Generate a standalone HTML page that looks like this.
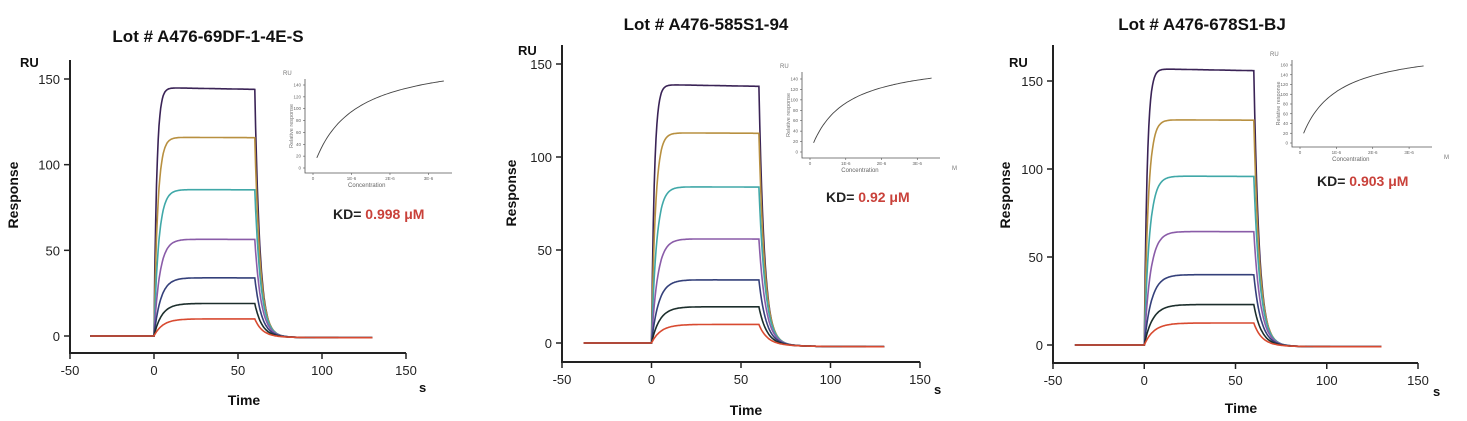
<!DOCTYPE html>
<html><head><meta charset="utf-8">
<style>
html,body{margin:0;padding:0;background:#fff;}
svg{display:block;font-family:"Liberation Sans",Arial,sans-serif;}
</style></head>
<body>
<svg id="s" width="1467" height="421" viewBox="0 0 1467 421" xmlns="http://www.w3.org/2000/svg"></svg>
<script>
const S=document.getElementById('s');
let h='';
const cols=['#3a2356','#b89040','#40a8a8','#8a5ca8','#34407a','#1c2e2c','#d84a30'];
function chart(c){
  const X=t=>c.x0+(t+50)*(c.x1-c.x0)/200;
  const Y=v=>c.y0-(v)*(c.y0-c.y150)/150;
  h+=`<text x="${c.tx}" y="${c.ty}" font-size="17" font-weight="bold" text-anchor="middle" fill="#111">${c.title}</text>`;
  h+=`<path d="M${c.x0} ${c.ytop}V${c.ax}H${c.x1}" stroke="#222" stroke-width="2" fill="none"/>`;
  for(let v=0;v<=150;v+=50){const y=Y(v);h+=`<line x1="${c.x0-6}" y1="${y}" x2="${c.x0}" y2="${y}" stroke="#222" stroke-width="1.5"/><text x="${c.x0-10}" y="${y+5}" font-size="13" text-anchor="end" fill="#222">${v}</text>`;}
  for(let t=-50;t<=150;t+=50){const x=X(t);h+=`<line x1="${x}" y1="${c.ax}" x2="${x}" y2="${c.ax+6}" stroke="#222" stroke-width="1.5"/><text x="${x}" y="${c.ax+22}" font-size="13" text-anchor="middle" fill="#222">${t}</text>`;}
  h+=`<text x="${c.rux}" y="${c.ruy}" font-size="13" font-weight="bold" fill="#111">RU</text>`;
  h+=`<text transform="translate(${c.rsx},${c.rsy}) rotate(-90)" font-size="14" font-weight="bold" text-anchor="middle" fill="#111">Response</text>`;
  h+=`<text x="${c.tmx}" y="${c.tmy}" font-size="14" font-weight="bold" text-anchor="middle" fill="#111">Time</text>`;
  h+=`<text x="${c.sx}" y="${c.sy}" font-size="13" font-weight="bold" fill="#111">s</text>`;
  c.lv.forEach((R,i)=>{
    const ta=1.6+i*0.6, td=3+i*0.25;
    let d='';
    for(let t=-38;t<=130;t+=0.5){
      let v;
      if(t<0)v=0;
      else if(t<=60)v=R*(1-Math.exp(-t/ta))*(1-0.00012*t*(i==0?1:0.3));
      else{const Re=R*(1-0.0072*(i==0?1:0.3));v=Re*Math.exp(-(t-60)/td)-c.drift*(1-Math.exp(-(t-60)/15));}
      d+=(d?'L':'M')+X(t).toFixed(1)+' '+Y(v).toFixed(1);
    }
    h+=`<path d="${d}" stroke="${cols[i]}" stroke-width="1.6" fill="none"/>`;
  });
  const I=c.in;
  h+=`<text x="${I.x-22}" y="${I.yt-4}" font-size="6" fill="#777">RU</text>`;
  h+=`<path d="M${I.x} ${I.yt}V${I.yb}H${I.xr}" stroke="#555" stroke-width="0.8" fill="none"/>`;
  const n=I.n;
  for(let k=0;k<=n;k++){const y=I.y0-(I.y0-I.ymax)*k/n;h+=`<line x1="${I.x-2}" y1="${y}" x2="${I.x}" y2="${y}" stroke="#555" stroke-width="0.6"/><text x="${I.x-4}" y="${y+1.5}" font-size="4.5" text-anchor="end" fill="#666">${k*20}</text>`;}
  const w=I.xr-I.x;
  [0,1,2,3].forEach(k=>{const x=I.x+8+k*(w-20)/3.3;h+=`<line x1="${x}" y1="${I.yb}" x2="${x}" y2="${I.yb+2}" stroke="#555" stroke-width="0.6"/><text x="${x}" y="${I.yb+7}" font-size="4.5" text-anchor="middle" fill="#666">${k==0?'0':k+'E-6'}</text>`;});
  h+=`<text x="${I.x+w*0.42}" y="${I.yb+14}" font-size="6" text-anchor="middle" fill="#666">Concentration</text>`;
  h+=`<text transform="translate(${I.x-12},${(I.yt+I.yb)/2}) rotate(-90)" font-size="5.5" text-anchor="middle" fill="#777">Relative response</text>`;
  if(I.m)h+=`<text x="${I.xr+12}" y="${I.yb+12}" font-size="6" fill="#777">M</text>`;
  let d='';
  for(let k=0;k<=60;k++){const cx=0.1+3.3*k/60;const v=c.rmax*cx/(cx+c.kd);const x=I.x+8+cx*(w-20)/3.3;const y=I.y0-(I.y0-I.ymax)*v/(20*n);d+=(d?'L':'M')+x.toFixed(1)+' '+y.toFixed(1);}
  h+=`<path d="${d}" stroke="#444" stroke-width="0.9" fill="none"/>`;
  h+=`<text x="${c.kx}" y="${c.ky}" font-size="14" font-weight="bold" fill="#222">KD= <tspan fill="#c9413a">${c.kdt}</tspan></text>`;
}
chart({x0:70,x1:406,ytop:60,ax:353,y0:336,y150:79,title:'Lot # A476-69DF-1-4E-S',tx:208,ty:42,
  rux:20,ruy:67,rsx:18,rsy:195,tmx:244,tmy:405,sx:419,sy:392,drift:1,
  lv:[145,116,85.5,56.5,34,19,10],
  in:{x:305,yt:79,yb:173,xr:452,y0:168,ymax:85,n:7,m:false},rmax:190,kd:1.0,
  kx:333,ky:219,kdt:'0.998 μM'});
chart({x0:562,x1:920,ytop:45,ax:362,y0:343,y150:64,title:'Lot # A476-585S1-94',tx:706,ty:30,
  rux:518,ruy:55,rsx:516,rsy:193,tmx:746,tmy:415,sx:934,sy:394,drift:2,
  lv:[139,113,84,56,34,19.5,10],
  in:{x:802,yt:72,yb:158,xr:940,y0:152,ymax:79,n:7,m:true},rmax:180,kd:0.92,
  kx:826,ky:202,kdt:'0.92 μM'});
chart({x0:1053,x1:1418,ytop:45,ax:363,y0:345,y150:81,title:'Lot # A476-678S1-BJ',tx:1202,ty:30,
  rux:1009,ruy:67,rsx:1010,rsy:195,tmx:1241,tmy:413,sx:1433,sy:396,drift:1,
  lv:[157,128,96,64.5,40,23,12.5],
  in:{x:1292,yt:60,yb:147,xr:1432,y0:143,ymax:65,n:8,m:true},rmax:200,kd:0.9,
  kx:1317,ky:186,kdt:'0.903 μM'});
S.innerHTML=h;
</script>
</body></html>
